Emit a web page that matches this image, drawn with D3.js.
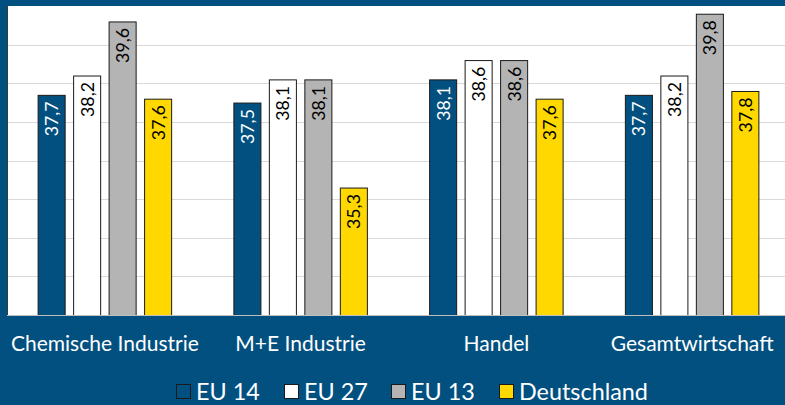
<!DOCTYPE html>
<html><head><meta charset="utf-8">
<script src="https://cdn.jsdelivr.net/npm/d3@7"></script>
<style>html,body{margin:0;padding:0;background:#02507f;}svg{display:block}</style>
</head><body>
<script>
const categories = ["Chemische Industrie", "M+E Industrie", "Handel", "Gesamtwirtschaft"];
const seriesNames = ["EU 14", "EU 27", "EU 13", "Deutschland"];
const eu14 = [37.7, 37.5, 38.1, 37.7];
const eu27 = [38.2, 38.1, 38.6, 38.2];
const eu13 = [39.6, 38.1, 38.6, 39.8];
const deutschland = [37.6, 35.3, 37.6, 37.8];
const yTicks = [32, 33, 34, 35, 36, 37, 38, 39, 40];

const values = [eu14, eu27, eu13, deutschland];
const fills = ["#02507f", "#ffffff", "#b4b4b4", "#ffd800"];
const labelColors = ["#ffffff", "#000000", "#000000", "#000000"];
const FONT = "Lato, 'Open Sans', sans-serif";

const W = 785, H = 405;
const plot = {x0: 7, x1: 785, y0: 6, y1: 315};
const svg = d3.select("body").append("svg").attr("width", W).attr("height", H);
svg.append("rect").attr("width", W).attr("height", H).attr("fill", "#02507f");
svg.append("rect").attr("x", plot.x0).attr("y", plot.y0).attr("width", plot.x1 - plot.x0).attr("height", plot.y1 - plot.y0).attr("fill", "#ffffff");
svg.append("line").attr("x1", plot.x0 + 0.5).attr("x2", plot.x0 + 0.5).attr("y1", plot.y0).attr("y2", plot.y1).attr("stroke", "#3a3a3a");

// helper to size a font so that a sample string has a target width
function fitSize(sample, target, base) {
  const t = svg.append("text").attr("font-family", FONT).attr("font-size", base).text(sample);
  const w = t.node().getComputedTextLength();
  t.remove();
  return base * target / w;
}

// the chart's category axis runs slightly past the visible right edge
const x = d3.scaleBand().domain(categories).range([plot.x0, 790]).paddingInner(0).paddingOuter(0);
const xs = d3.scaleBand().domain(seriesNames).range([0, 134.5]).paddingInner(0.21).paddingOuter(0);
const y = d3.scaleLinear().domain([32, 40]).range([plot.y1, plot.y0]);

svg.append("g").selectAll("line").data(yTicks.slice(1, -1)).join("line")
  .attr("x1", plot.x0 + 1).attr("x2", plot.x1)
  .attr("y1", d => Math.round(y(d)) + 0.5).attr("y2", d => Math.round(y(d)) + 0.5)
  .attr("stroke", "#d9d9d9").attr("stroke-width", 1.2);

const valSize = fitSize("39,6", 35, 16);
const groups = svg.append("g").selectAll("g").data(categories).join("g")
  .attr("transform", d => `translate(${x(d) + x.bandwidth()/2 - 67.25},0)`);

groups.each(function(cat, ci) {
  const g = d3.select(this);
  seriesNames.forEach((s, si) => {
    const v = values[si][ci];
    const bx = xs(s), bw = xs.bandwidth();
    g.append("rect").attr("x", bx + 0.5).attr("y", y(v) + 0.5)
      .attr("width", bw - 1).attr("height", y(32) - y(v))
      .attr("fill", fills[si]).attr("stroke", "#1a1a1a").attr("stroke-width", 1);
    g.append("text")
      .attr("transform", `translate(${bx + bw/2 + valSize*0.36},${y(v) + 6.5}) rotate(-90)`)
      .attr("text-anchor", "end")
      .attr("font-family", FONT).attr("font-size", valSize)
      .attr("fill", labelColors[si])
      .text(String(v.toFixed(1)).replace(".", ","));
  });
});

svg.append("line").attr("x1", plot.x0).attr("x2", plot.x1).attr("y1", plot.y1 + 0.5).attr("y2", plot.y1 + 0.5).attr("stroke", "#bfbfbf");

const catSize = fitSize("Chemische Industrie", 188, 18);
svg.append("g").selectAll("text").data(categories).join("text")
  .attr("x", d => x(d) + x.bandwidth()/2).attr("y", 351)
  .attr("text-anchor", "middle").attr("fill", "#ffffff")
  .attr("font-family", FONT).attr("font-size", catSize)
  .text(d => d);

const legSize = fitSize("Deutschland", 129, 20);
const legX = [176, 284, 391, 499];
const leg = svg.append("g").selectAll("g").data(seriesNames).join("g")
  .attr("transform", (d, i) => `translate(${legX[i]},384)`);
leg.append("rect").attr("x", 0.5).attr("y", 0.5).attr("width", 14).attr("height", 14)
  .attr("fill", (d, i) => fills[i]).attr("stroke", "#1a1a1a");
leg.append("text").attr("x", 20).attr("y", 15.5).attr("fill", "#ffffff")
  .attr("font-family", FONT).attr("font-size", legSize)
  .text(d => d);
</script>
</body></html>
